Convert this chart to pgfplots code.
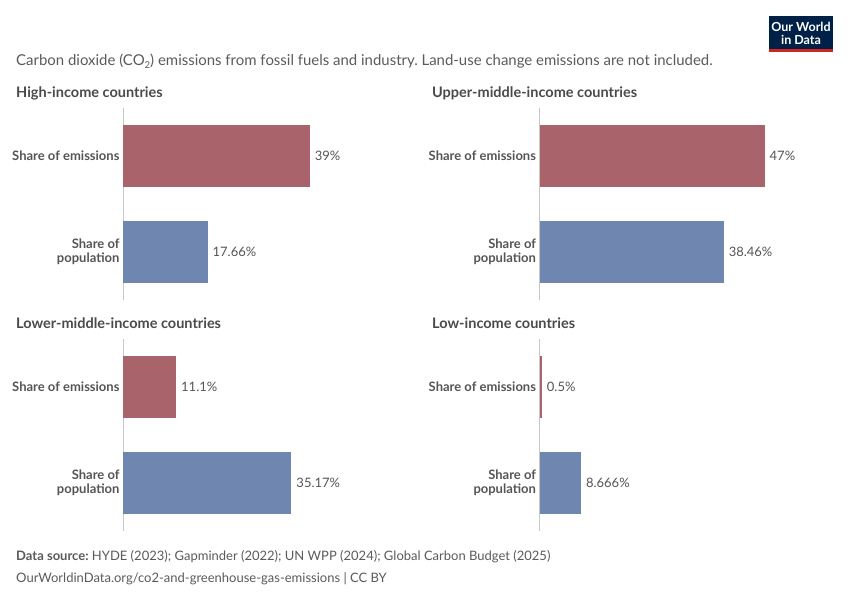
\documentclass[border=0pt]{standalone}
\usepackage{pgfplots}
\pgfplotsset{compat=1.18}
\usepackage{fontspec}
\setmainfont{Lato}
\frenchspacing
\definecolor{emis}{HTML}{A9646B}
\definecolor{popc}{HTML}{6F87B0}
\definecolor{ttl}{HTML}{4A4A4A}
\definecolor{sub}{HTML}{5B5B5B}
\definecolor{lbl}{HTML}{555555}
\definecolor{navy}{HTML}{002147}
\definecolor{owidred}{HTML}{CE261E}
\pgfplotsset{panel/.style={
  xbar, scale only axis, width=287.4pt, height=192pt,
  xmin=0, xmax=60, ymin=-0.5, ymax=1.5, y dir=reverse,
  hide x axis, axis y line*=left, y axis line style={draw=black!22,-},
  ytick={0,1}, yticklabels={Share of emissions, Share of\\population},
  major tick length=0pt,
  yticklabel style={font=\fontsize{13}{13.5}\selectfont\bfseries, text=lbl, align=right},
  bar width=62pt, bar shift=0pt,
  nodes near coords, point meta=explicit symbolic,
  nodes near coords style={font=\fontsize{13}{14}\selectfont, text=lbl, anchor=west, xshift=1.5pt},
  clip=false,
}}
\begin{document}
\begin{tikzpicture}
\path[use as bounding box, fill=white] (0,0) rectangle (850pt,600pt);
% logo
\fill[navy] (769pt,551pt) rectangle (833pt,584pt);
\fill[owidred] (769pt,548pt) rectangle (833pt,551pt);
\node[anchor=base, inner sep=0, text=white, font=\fontsize{12.5}{13}\selectfont\bfseries] at (801pt,568pt) {Our World};
\node[anchor=base, inner sep=0, text=white, font=\fontsize{12.5}{13}\selectfont\bfseries] at (801pt,555pt) {in Data};
% subtitle
\node[anchor=base west, inner sep=0, text=sub, font=\fontsize{14.95}{16}\selectfont] at (16pt,534pt)
  {Carbon dioxide (CO\raisebox{-0.35ex}{\fontsize{9.5}{10}\selectfont 2}) emissions from fossil fuels and industry. Land-use change emissions are not included.};
% panel titles
\node[anchor=base west, inner sep=0, text=ttl, font=\fontsize{14.5}{16}\selectfont\bfseries] at (16pt,502pt) {High-income countries};
\node[anchor=base west, inner sep=0, text=ttl, font=\fontsize{14.5}{16}\selectfont\bfseries] at (432pt,502pt) {Upper-middle-income countries};
\node[anchor=base west, inner sep=0, text=ttl, font=\fontsize{14.5}{16}\selectfont\bfseries] at (16pt,272pt) {Lower-middle-income countries};
\node[anchor=base west, inner sep=0, text=ttl, font=\fontsize{14.5}{16}\selectfont\bfseries] at (432pt,272pt) {Low-income countries};
% panels
\begin{axis}[panel, at={(123pt,300pt)}, anchor=south west]
\addplot[fill=emis, draw=none] coordinates {(39,0) [39\%]};
\addplot[fill=popc, draw=none] coordinates {(17.66,1) [17.66\%]};
\end{axis}
\begin{axis}[panel, at={(539.5pt,300pt)}, anchor=south west]
\addplot[fill=emis, draw=none] coordinates {(47,0) [47\%]};
\addplot[fill=popc, draw=none] coordinates {(38.46,1) [38.46\%]};
\end{axis}
\begin{axis}[panel, at={(123pt,69pt)}, anchor=south west]
\addplot[fill=emis, draw=none] coordinates {(11.1,0) [11.1\%]};
\addplot[fill=popc, draw=none] coordinates {(35.17,1) [35.17\%]};
\end{axis}
\begin{axis}[panel, at={(539.5pt,69pt)}, anchor=south west]
\addplot[fill=emis, draw=none] coordinates {(0.5,0) [0.5\%]};
\addplot[fill=popc, draw=none] coordinates {(8.666,1) [8.666\%]};
\end{axis}
% footer
\node[anchor=base west, inner sep=0, text=sub, font=\fontsize{13}{15}\selectfont] at (16pt,40pt)
  {\textbf{Data source:} HYDE (2023); Gapminder (2022); UN WPP (2024); Global Carbon Budget (2025)};
\node[anchor=base west, inner sep=0, text=sub, font=\fontsize{13}{15}\selectfont] at (16pt,18pt)
  {OurWorldinData.org/co2-and-greenhouse-gas-emissions | CC BY};
\end{tikzpicture}
\end{document}
